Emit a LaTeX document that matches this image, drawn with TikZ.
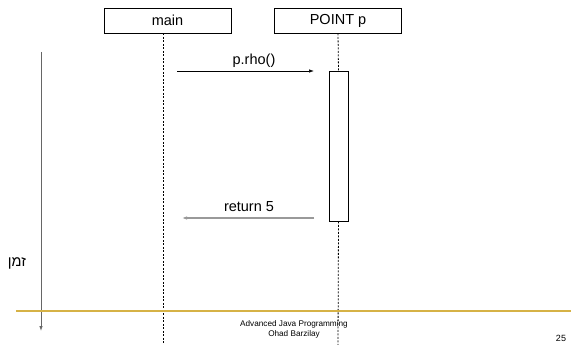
\documentclass[tikz,border=0pt]{standalone}
\usepackage{fontspec}
\setmainfont{Liberation Sans}
\newfontfamily\hebfont[Script=Hebrew]{Liberation Sans}
\TeXXeTstate=1
\usetikzlibrary{arrows.meta}

\tikzset{
  objbox/.style={draw, line width=0.9pt, minimum width=127pt, minimum height=25pt, inner sep=0pt, font=\fontsize{14.5}{16}\selectfont},
  lifeline/.style={dashed, dash pattern=on 2pt off 1.5pt, line width=0.8pt},
  msg/.style={-{Latex[length=5pt,width=3.5pt]}, line width=0.7pt},
  retmsg/.style={-{Latex[length=5pt,width=3.5pt]}, line width=1.5pt, draw=black!40},
  lbl/.style={font=\fontsize{14.5}{16}\selectfont, inner sep=0pt}
}

\begin{document}
\begin{tikzpicture}[x=1pt,y=-1pt]
\useasboundingbox (0,0) rectangle (571,345);
% objects
\node[objbox] (main) at (167.5,20.5) {main};
\node[objbox] (point) at (338,20.5) {POINT p};
\coordinate (mainend) at (163,345);
\coordinate (pointend) at (338,345);
% activation box
\node[draw, line width=0.9pt, minimum width=19pt, minimum height=150pt, inner sep=0pt] (act) at (338.5,146) {};
% lifelines
\draw[lifeline] (main.south -| mainend) -- (mainend);
\draw[lifeline] (point.south) -- (act.north);
\draw[lifeline] (act.south) -- (pointend);
% messages
\coordinate (callfrom) at (177,71);
\coordinate (callto) at (314,71);
\draw[msg] (callfrom) -- (callto);
\node[lbl] (calllbl) at (254,61) {p.rho()};
\coordinate (retfrom) at (314,218);
\coordinate (retto) at (182,218);
\draw[retmsg] (retfrom) -- (retto);
\node[lbl] (retlbl) at (249,207) {return 5};
% time axis
\coordinate (ttop) at (41,52);
\coordinate (tbot) at (41,331);
\draw[-{Latex[length=5pt,width=3.5pt]}, line width=0.8pt, draw=black!60] (ttop) -- (tbot);
\node[lbl] (time) at (17,263) {\hebfont\beginR זמן\endR};
% footer
\coordinate (rulel) at (16,311);
\coordinate (ruler) at (571,311);
\draw[line width=1.6pt, draw={rgb,255:red,214;green,178;blue,70}] (rulel) -- (ruler);
\node[font=\fontsize{8.2}{10}\selectfont, align=center, inner sep=0pt] (foot) at (294,329) {Advanced Java Programming\\Ohad Barzilay};
\node[font=\fontsize{9}{10}\selectfont, inner sep=0pt] (page) at (561,338) {25};
\end{tikzpicture}
\end{document}
